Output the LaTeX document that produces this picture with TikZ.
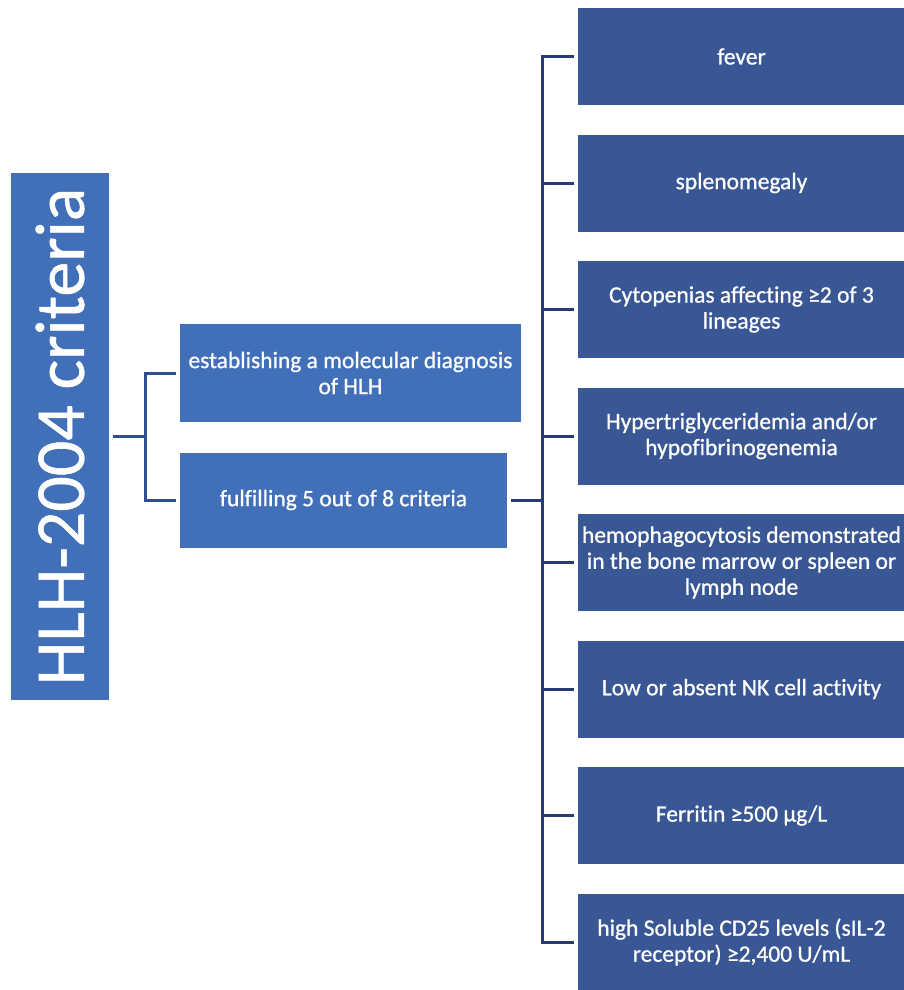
\documentclass[tikz,border=0pt]{standalone}
\usepackage{fontspec}
\usepackage{graphicx}
\setmainfont{Carlito}[Ligatures=NoCommon, RawFeature={embolden=0.8}]
\definecolor{lblue}{HTML}{4170B8}
\definecolor{dblue}{HTML}{3A5795}
\definecolor{navyline}{HTML}{283A73}
\definecolor{lline}{HTML}{2E4E91}
\begin{document}
\begin{tikzpicture}[x=1pt,y=-1pt,
  txt/.style={text=white, inner sep=0pt, align=center, font=\fontsize{23.5}{26}\selectfont},
  mbox/.style={txt, fill=lblue},
  rbox/.style={txt, fill=dblue, minimum width=327pt, minimum height=97pt},
  conn/.style={draw=navyline, line width=3pt},
  connL/.style={draw=lline, line width=3pt}]
\useasboundingbox (0,0) rectangle (903,990);
\fill[white] (0,0) rectangle (903,990);
% title
\node[fill=lblue, text=white, inner sep=0pt, minimum width=98pt, minimum height=527pt,
      font=\fontsize{70}{74}\selectfont] (title) at (60,436.5) {\rotatebox{90}{HLH-2004 criteria}};
% middle
\node[mbox, minimum width=341pt, minimum height=98pt] (m1) at (350.5,373) {establishing a molecular diagnosis\\of HLH};
\node[mbox, minimum width=327pt, minimum height=95pt] (m2) at (343.5,500) {fulfilling 5 out of 8 criteria};
% right
\node[rbox] (r1) at (741.5,56.5) {fever};
\node[rbox] (r2) at (741.5,183) {splenomegaly};
\node[rbox] (r3) at (741.5,309.5) {Cytopenias affecting ≥2 of 3\\lineages};
\node[rbox] (r4) at (741.5,436) {Hypertriglyceridemia and/or\\hypofibrinogenemia};
\node[rbox] (r5) at (741.5,562.5) {hemophagocytosis demonstrated\\in the bone marrow or spleen or\\lymph node};
\node[rbox] (r6) at (741.5,689) {Low or absent NK cell activity};
\node[rbox] (r7) at (741.5,815.5) {Ferritin ≥500 µg/L};
\node[rbox] (r8) at (741.5,942) {high Soluble CD25 levels (sIL-2\\receptor) ≥2,400 U/mL};
% left connectors
\coordinate (jL) at (145,436.5);
\draw[connL] ([xshift=4pt]title.east) -- (jL);
\draw[connL] ([xshift=-4pt]m1.west) -| (jL) |- ([xshift=-4pt]m2.west);
% right connectors
\coordinate (jR) at (542,500);
\draw[conn] ([xshift=4pt]m2.east) -- (jR);
\draw[conn] ([xshift=-4pt]r1.west) -| (jR) |- ([xshift=-4pt]r8.west);
\foreach \i in {2,...,7} {
  \draw[conn] (jR |- r\i.west) -- ([xshift=-4pt]r\i.west);
}
\end{tikzpicture}
\end{document}
